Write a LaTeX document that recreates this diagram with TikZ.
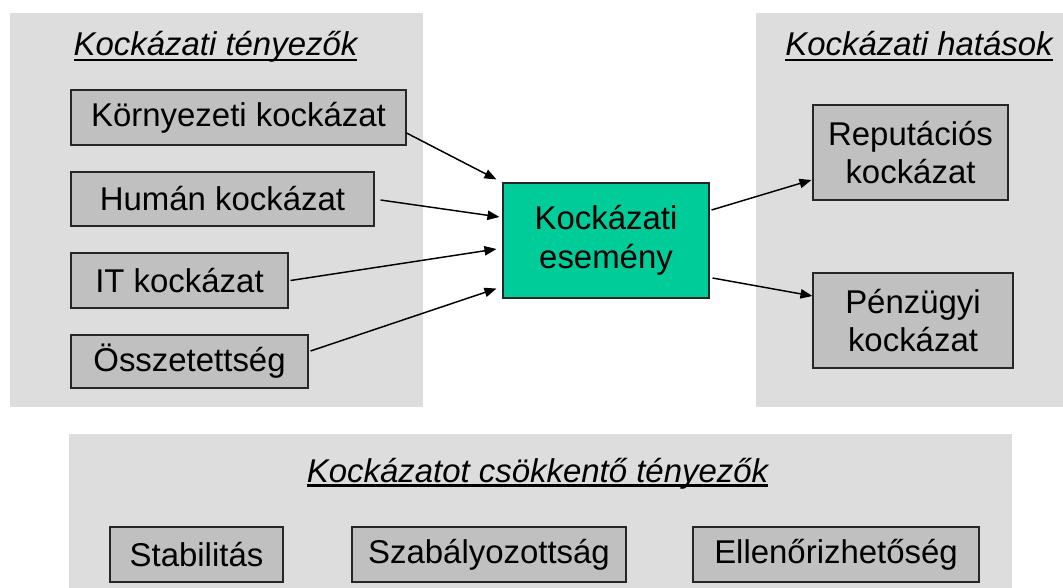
\documentclass[tikz,border=0pt]{standalone}
\usepackage{fontspec}
\setmainfont{Liberation Sans}
\usetikzlibrary{arrows.meta}
\definecolor{panelgray}{HTML}{DDDDDD}
\definecolor{boxgray}{HTML}{C0C0C0}
\definecolor{eventgreen}{HTML}{00CC99}
\newsavebox{\ttlbox}
\newcommand{\ulttl}[2][1.5pt]{\sbox{\ttlbox}{#2}\rlap{\rule[-3.7pt]{\wd\ttlbox}{#1}}\usebox{\ttlbox}}
\def\pxu{0.75pt}
\begin{document}
\begin{tikzpicture}[x=0.75pt, y=-0.75pt,
        every node/.style={font=\fontsize{24.7}{29}\selectfont},
        title/.style={anchor=base, font=\fontsize{24.7}{29}\selectfont\itshape},
        riskbox/.style={draw=black!85, line width=0.8pt, fill=boxgray, inner sep=0pt, align=center},
        link/.style={-{Triangle[length=9pt, width=7pt]}, line width=1.1pt}]
        \useasboundingbox (0,0) rectangle (1063,588);
        \fill[panelgray] (10,13) rectangle (423,407);
        \fill[panelgray] (756,13) rectangle (1063,407);
        \fill[panelgray] (69,434) rectangle (1012,588);
        \node[title] (ttenyezok) at (215.5,56) {\ulttl{Kockázati tényezők}};
        \node[title] (thatasok) at (919,56) {\ulttl{Kockázati hatások}};
        \node[title] (tcsokkento) at (537.5,482) {\ulttl[2.1pt]{Kockázatot csökkentő tényezők}};
        \node[riskbox, minimum width=335*\pxu, minimum height=55*\pxu] (env) at (238.5,117.5) {Környezeti kockázat};
        \node[riskbox, minimum width=303*\pxu, minimum height=54*\pxu] (hum) at (222.5,199) {Humán kockázat};
        \node[riskbox, minimum width=217*\pxu, minimum height=55*\pxu] (it) at (179.5,280.5) {IT kockázat};
        \node[riskbox, minimum width=237*\pxu, minimum height=53*\pxu] (ossz) at (189.5,361.5) {Összetettség};
        \node[riskbox, fill=eventgreen, minimum width=206*\pxu, minimum height=115*\pxu] (ev) at (606,240.5) {Kockázati\\esemény};
        \node[riskbox, minimum width=195*\pxu, minimum height=95*\pxu] (rep) at (910.5,152.5) {Reputációs\\kockázat};
        \node[riskbox, minimum width=200*\pxu, minimum height=95*\pxu] (penz) at (913,320.5) {Pénzügyi\\kockázat};
        \node[riskbox, minimum width=173*\pxu, minimum height=55*\pxu] (stab) at (196.5,554.5) {Stabilitás};
        \node[riskbox, minimum width=274*\pxu, minimum height=55*\pxu] (szab) at (489,554.5) {Szabályozottság};
        \node[riskbox, minimum width=286*\pxu, minimum height=55*\pxu] (ell) at (836,554.5) {Ellenőrizhetőség};
        \draw[link] ([shift={(0,15.5)}]env.east) -- ([shift={(-6,-3)}]ev.north west);
        \draw[link] ([shift={(6,1)}]hum.east) -- ([shift={(-3,-23.5)}]ev.west);
        \draw[link] ([shift={(2,0)}]it.east) -- ([shift={(-6,8.5)}]ev.west);
        \draw[link] ([shift={(2,-10.5)}]ossz.east) -- ([shift={(-6,-10)}]ev.south west);
        \draw[link] ([shift={(2,-30.5)}]ev.east) -- ([shift={(-1,27.5)}]rep.west);
        \draw[link] ([shift={(3,37.5)}]ev.east) -- ([shift={(0,-24.5)}]penz.west);
\end{tikzpicture}
\end{document}
